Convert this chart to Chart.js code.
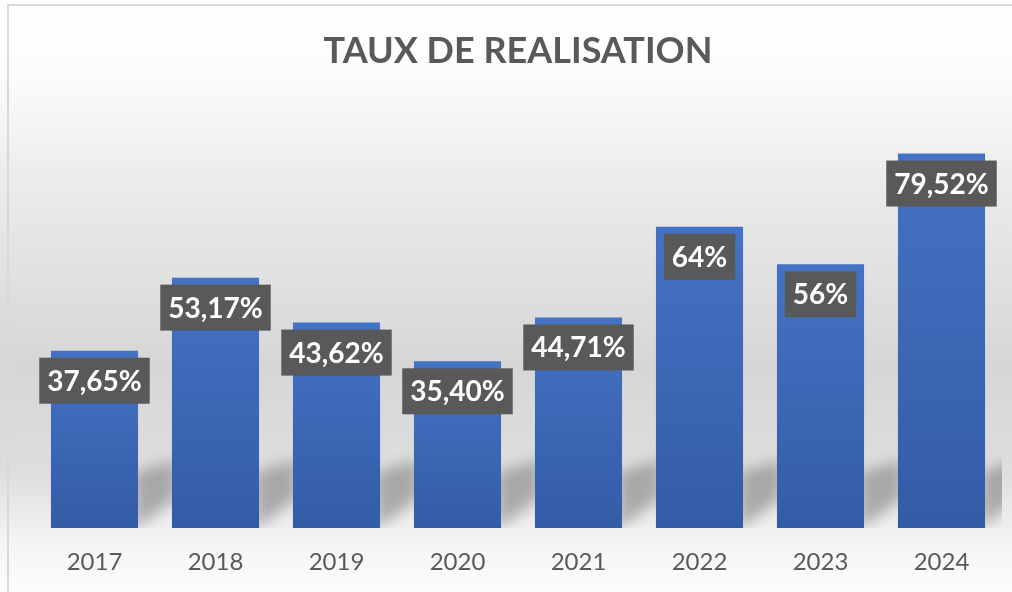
<!DOCTYPE html>
<html>
<head>
<meta charset="utf-8">
<script src="https://cdn.jsdelivr.net/npm/chart.js@4"></script>
<style>
  html, body { margin: 0; padding: 0; background: #ffffff; }
  #wrap { width: 1012px; height: 592px; position: relative; }
</style>
</head>
<body>
<div id="wrap"><canvas id="tauxChart"></canvas></div>
<script>
const categories = ['2017', '2018', '2019', '2020', '2021', '2022', '2023', '2024'];
const tauxValues = [37.65, 53.17, 43.62, 35.40, 44.71, 64, 56, 79.52];
const valueLabels = ['37,65%', '53,17%', '43,62%', '35,40%', '44,71%', '64%', '56%', '79,52%'];

// fond gris degrade + cadre
const backgroundPlugin = {
    id: 'fond',
    beforeDraw(chart) {
        const ctx = chart.ctx;
        const h = chart.height;
        const g = ctx.createLinearGradient(0, 0, 0, h);
        g.addColorStop(0, '#ffffff');
        g.addColorStop(0.12, '#fcfcfc');
        g.addColorStop(0.3, '#ececec');
        g.addColorStop(0.62, '#d6d6d6');
        g.addColorStop(0.8, '#dedede');
        g.addColorStop(0.92, '#f5f5f5');
        g.addColorStop(1, '#fcfcfc');
        ctx.save();
        ctx.fillStyle = g;
        ctx.fillRect(0, 0, chart.width, h);
        ctx.restore();
    },
    afterDraw(chart) {
        const ctx = chart.ctx;
        ctx.save();
        ctx.fillStyle = '#d9d9d9';
        ctx.fillRect(7, 4, chart.width - 7, 2);
        ctx.fillRect(7, 4, 2, chart.height - 4);
        ctx.restore();
    }
};

// ombre portee au sol entre les barres
const shadowPlugin = {
    id: 'ombre',
    beforeDatasetsDraw(chart) {
        const ctx = chart.ctx;
        const bars = chart.getDatasetMeta(0).data;
        const base = chart.scales.y.getPixelForValue(0);
        const area = chart.chartArea;
        ctx.save();
        ctx.beginPath();
        ctx.rect(area.left - 20, area.top, area.right - area.left + 20, base - area.top);
        ctx.clip();
        ctx.filter = 'blur(7px)';
        ctx.fillStyle = 'rgba(110,110,110,0.5)';
        bars.forEach((bar, i) => {
            const xr = bar.x + bar.width / 2;
            const next = bars[i + 1] ? bars[i + 1].x - bar.width / 2 : area.right + 10;
            ctx.beginPath();
            ctx.moveTo(xr - 4, base - 55);
            ctx.lineTo(next + 4, base - 68);
            ctx.lineTo(next + 4, base - 30);
            ctx.lineTo(xr - 4, base + 2);
            ctx.closePath();
            ctx.fill();
        });
        ctx.restore();
    }
};

// etiquettes de valeurs dans des cadres gris
const labelPlugin = {
    id: 'etiquettes',
    afterDatasetsDraw(chart) {
        const ctx = chart.ctx;
        const bars = chart.getDatasetMeta(0).data;
        ctx.save();
        ctx.font = 'bold 28px Lato';
        ctx.textAlign = 'center';
        ctx.textBaseline = 'middle';
        bars.forEach((bar, i) => {
            const txt = valueLabels[i];
            const w = ctx.measureText(txt).width + 16;
            const h = 46;
            const top = bar.y + 7;
            ctx.fillStyle = '#595959';
            ctx.fillRect(bar.x - w / 2, top, w, h);
            ctx.fillStyle = '#ffffff';
            ctx.fillText(txt, bar.x, top + h / 2 + 1);
        });
        ctx.restore();
    }
};

function barGradient(context) {
    const chart = context.chart;
    if (!chart.chartArea) return '#4472c4';
    const y = chart.scales.y;
    const top = y.getPixelForValue(context.raw);
    const bottom = y.getPixelForValue(0);
    const g = chart.ctx.createLinearGradient(0, top, 0, bottom);
    g.addColorStop(0, '#4472c4');
    g.addColorStop(1, '#335ca6');
    return g;
}

const ctx = document.getElementById('tauxChart').getContext('2d');

new Chart(ctx, {
    type: 'bar',
    data: {
        labels: categories,
        datasets: [{
            label: 'Taux de realisation',
            data: tauxValues,
            backgroundColor: barGradient,
            borderWidth: 0,
            barPercentage: 0.9,
            categoryPercentage: 0.8
        }]
    },
    options: {
        responsive: true,
        maintainAspectRatio: false,
        animation: false,
        layout: {
            padding: { left: 34, right: 10, top: 0, bottom: 0 }
        },
        plugins: {
            legend: { display: false },
            tooltip: { enabled: false },
            title: {
                display: true,
                text: 'TAUX DE REALISATION',
                color: '#595959',
                font: { family: 'Lato', size: 36, weight: 'bold' },
                padding: { top: 30, bottom: 31 }
            }
        },
        scales: {
            x: {
                grid: { display: false },
                border: { display: false },
                ticks: {
                    color: '#595959',
                    font: { family: 'Lato', size: 24 },
                    padding: 12
                },
                afterFit(scale) { scale.height = 64; }
            },
            y: {
                display: false,
                min: 0,
                max: 90
            }
        }
    },
    plugins: [backgroundPlugin, shadowPlugin, labelPlugin]
});
</script>
</body>
</html>
